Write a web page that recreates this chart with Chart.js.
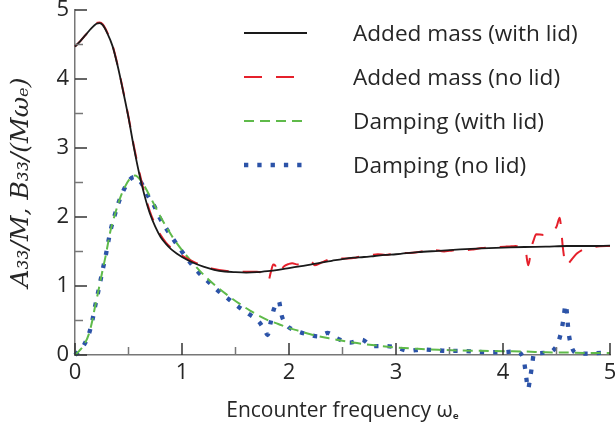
<!DOCTYPE html>
<html><head><meta charset="utf-8">
<script src="https://cdn.jsdelivr.net/npm/chart.js@4/dist/chart.umd.min.js"></script>
<style>html,body{margin:0;padding:0;background:#fff}canvas{display:block}</style>
</head><body>
<canvas id="c" width="615" height="433"></canvas>
<script>
// ---- data ----
const seriesNames = ['Added mass (with lid)', 'Added mass (no lid)', 'Damping (with lid)', 'Damping (no lid)'];
const xTickLabels = ['0','1','2','3','4','5'];
const yTickLabels = ['0','1','2','3','4','5'];

const omegaAddedLid = [0,0.05,0.1,0.15,0.2,0.23,0.26,0.3,0.35,0.4,
  0.45,0.5,0.55,0.6,0.65,0.7,0.75,0.8,0.85,0.9,
  0.95,1.0,1.1,1.2,1.3,1.4,1.5,1.6,1.7,1.8,
  1.9,2.0,2.1,2.2,2.3,2.4,2.5,2.6,2.7,2.8,
  2.9,3.0,3.2,3.4,3.6,3.8,4.0,4.2,4.4,4.6,
  4.8,5.0];
const addedMassLid = [4.47,4.55,4.64,4.73,4.80,4.81,4.78,4.67,4.48,4.18,
  3.82,3.44,3.01,2.63,2.31,2.05,1.86,1.71,1.61,1.53,
  1.47,1.42,1.34,1.28,1.235,1.21,1.20,1.195,1.20,1.215,
  1.235,1.26,1.285,1.31,1.34,1.365,1.39,1.41,1.42,1.435,
  1.45,1.46,1.49,1.51,1.53,1.545,1.555,1.565,1.57,1.58,
  1.58,1.585];

const omegaAddedNoLid = [0,0.05,0.1,0.15,0.2,0.23,0.26,0.3,0.35,0.4,
  0.45,0.5,0.55,0.6,0.65,0.7,0.75,0.8,0.85,0.9,
  0.95,1.0,1.1,1.2,1.3,1.4,1.5,1.6,1.7,1.76,
  1.79,1.807,1.83,1.853,1.87,1.89,1.91,1.95,2.0,2.03,
  2.08,2.13,2.18,2.21,2.24,2.29,2.35,2.4,2.48,2.55,
  2.62,2.7,2.77,2.83,2.9,2.98,3.05,3.12,3.2,3.27,
  3.33,3.38,3.45,3.5,3.58,3.65,3.72,3.8,3.88,3.95,
  4.02,4.08,4.12,4.16,4.21,4.235,4.268,4.29,4.31,4.38,
  4.45,4.5,4.53,4.545,4.56,4.59,4.64,4.69,4.75,4.82,
  4.9,5.0];
const addedMassNoLid = [4.47,4.55,4.64,4.73,4.81,4.82,4.79,4.68,4.49,4.19,
  3.83,3.45,3.03,2.66,2.34,2.08,1.89,1.74,1.63,1.55,
  1.49,1.44,1.355,1.29,1.245,1.22,1.21,1.205,1.205,1.18,
  1.12,1.08,1.20,1.31,1.30,1.22,1.18,1.28,1.32,1.33,
  1.31,1.31,1.33,1.35,1.30,1.33,1.37,1.40,1.40,1.40,
  1.41,1.44,1.45,1.46,1.45,1.47,1.48,1.48,1.49,1.51,
  1.54,1.52,1.50,1.51,1.52,1.52,1.53,1.55,1.56,1.565,
  1.57,1.575,1.58,1.56,1.52,1.30,1.57,1.68,1.75,1.74,
  1.79,1.86,1.99,1.80,1.55,1.30,1.38,1.47,1.53,1.56,
  1.575,1.58];

const omegaDampLid = [0,0.04,0.084,0.131,0.162,0.187,0.212,0.237,0.262,0.287,
  0.311,0.336,0.368,0.405,0.449,0.51,0.56,0.62,0.68,0.74,
  0.8,0.86,0.92,1.0,1.08,1.16,1.25,1.34,1.44,1.54,
  1.64,1.73,1.81,1.9,2.0,2.07,2.2,2.38,2.6,2.8,
  3.0,3.2,3.4,3.6,3.8,4.0,4.2,4.4,4.6,4.8,
  5.0];
const dampingLid = [0,0.06,0.145,0.31,0.50,0.70,0.88,1.07,1.26,1.44,
  1.64,1.83,2.01,2.20,2.38,2.55,2.60,2.52,2.36,2.18,
  2.00,1.84,1.69,1.52,1.37,1.23,1.09,0.97,0.85,0.74,
  0.64,0.56,0.50,0.45,0.39,0.36,0.30,0.24,0.18,0.14,
  0.11,0.09,0.075,0.065,0.06,0.055,0.05,0.04,0.035,0.03,
  0.03];

const omegaDampNoLid = [0,0.04,0.084,0.131,0.162,0.187,0.212,0.237,0.262,0.287,
  0.311,0.336,0.368,0.405,0.449,0.511,0.56,0.617,0.676,0.741,
  0.791,0.854,0.922,0.994,1.071,1.153,1.24,1.33,1.427,1.527,
  1.629,1.72,1.78,1.80,1.83,1.86,1.905,1.93,1.98,2.07,
  2.17,2.28,2.36,2.45,2.57,2.68,2.78,2.9,3.0,3.12,
  3.24,3.36,3.49,3.61,3.74,3.86,3.99,4.11,4.19,4.21,
  4.235,4.25,4.27,4.29,4.4,4.5,4.54,4.565,4.585,4.60,
  4.61,4.63,4.68,4.81,4.93,5.0];
const dampingNoLid = [0,0.06,0.145,0.31,0.50,0.70,0.88,1.07,1.26,1.44,
  1.64,1.83,2.01,2.20,2.37,2.54,2.58,2.50,2.32,2.16,
  1.99,1.83,1.67,1.51,1.35,1.20,1.07,0.94,0.82,0.70,
  0.59,0.48,0.34,0.29,0.48,0.67,0.78,0.58,0.43,0.35,
  0.30,0.27,0.32,0.24,0.18,0.22,0.13,0.13,0.11,0.06,
  0.08,0.07,0.06,0.06,0.05,0.04,0.04,0.05,-0.04,-0.23,
  -0.49,-0.37,-0.17,0.02,0.03,0.13,0.31,0.52,0.73,0.57,
  0.37,0.18,0.03,0.02,0.03,0.03];

// ---- chart ----
const FONT = '"Open Sans", Lato, sans-serif';
const TXT = '#262626';
const pts = (xs, ys) => xs.map((x, i) => ({x: x, y: ys[i]}));

const decor = {
  id: 'decor',
  afterDraw(chart) {
    const {ctx, chartArea: a, scales: {x, y}} = chart;
    ctx.save();
    ctx.lineCap = 'butt';
    ctx.setLineDash([]);
    x.ticks.forEach(t => {
      const major = Number.isInteger(t.value);
      const px = x.getPixelForValue(t.value);
      ctx.strokeStyle = major ? '#333' : '#777';
      ctx.lineWidth = 1.5;
      ctx.beginPath(); ctx.moveTo(px, a.bottom); ctx.lineTo(px, a.bottom - (major ? 12 : 8)); ctx.stroke();
    });
    y.ticks.forEach(t => {
      const major = Number.isInteger(t.value);
      const py = y.getPixelForValue(t.value);
      ctx.strokeStyle = major ? '#333' : '#777';
      ctx.lineWidth = 1.5;
      ctx.beginPath(); ctx.moveTo(a.left, py); ctx.lineTo(a.left + (major ? 12 : 8), py); ctx.stroke();
    });
    // legend
    chart.data.datasets.forEach((ds, i) => {
      const ly = 33 + 44 * i;
      ctx.save();
      ctx.strokeStyle = ds.borderColor;
      ctx.lineWidth = ds.borderWidth;
      ctx.lineCap = 'butt';
      ctx.setLineDash(ds.borderDash || []);
      ctx.beginPath(); ctx.moveTo(244, ly); ctx.lineTo(307, ly); ctx.stroke();
      ctx.restore();
      ctx.fillStyle = TXT;
      ctx.font = '22.6px ' + FONT;
      ctx.textBaseline = 'alphabetic';
      ctx.textAlign = 'left';
      ctx.fillText(ds.label, 353, ly + 8);
    });
    ctx.restore();
  }
};

new Chart(document.getElementById('c'), {
  type: 'line',
  data: {
    datasets: [
      {label: seriesNames[0], data: pts(omegaAddedLid, addedMassLid), borderColor: '#1a1a1a', borderWidth: 1.8, cubicInterpolationMode: 'monotone', clip: false},
      {label: seriesNames[1], data: pts(omegaAddedNoLid, addedMassNoLid), borderColor: '#e5202b', borderWidth: 2, borderDash: [18, 14], cubicInterpolationMode: 'monotone', clip: false},
      {label: seriesNames[2], data: pts(omegaDampLid, dampingLid), borderColor: '#5fba4a', borderWidth: 2, borderDash: [10, 6], cubicInterpolationMode: 'monotone', clip: false},
      {label: seriesNames[3], data: pts(omegaDampNoLid, dampingNoLid), borderColor: '#2c53a8', borderWidth: 4.3, borderDash: [4.3, 9], cubicInterpolationMode: 'monotone', clip: false}
    ]
  },
  options: {
    responsive: false,
    animation: false,
    devicePixelRatio: 1,
    layout: {padding: {top: 10, right: 5, left: 0, bottom: 0}},
    elements: {point: {radius: 0}, line: {borderCapStyle: 'butt', fill: false}},
    plugins: {legend: {display: false}, tooltip: {enabled: false}},
    scales: {
      x: {
        type: 'linear', min: 0, max: 5,
        border: {display: true, color: '#777', width: 1.5},
        grid: {display: false, drawTicks: false},
        ticks: {stepSize: 0.5, autoSkip: false, maxRotation: 0, padding: 5, color: TXT,
          font: {family: FONT, size: 22},
          callback: (v) => Number.isInteger(v) ? xTickLabels[v] : ''},
        title: {display: true, text: 'Encounter frequency ωₑ', color: TXT,
          font: {family: FONT, size: 21}, padding: {top: 0, bottom: 9}},
        afterFit: (s) => { s.height = 78; s.paddingLeft = 0; s.paddingRight = 0; }
      },
      y: {
        type: 'linear', min: 0, max: 5,
        border: {display: true, color: '#777', width: 1.5},
        grid: {display: false, drawTicks: false},
        ticks: {stepSize: 0.5, autoSkip: false, padding: 6, color: TXT,
          font: {family: FONT, size: 22},
          callback: (v) => Number.isInteger(v) ? yTickLabels[v] : ''},
        title: {display: true, text: 'A₃₃/M, B₃₃/(Mωₑ)', color: TXT,
          font: {family: '"DejaVu Serif", serif', size: 25, style: 'italic'},
          padding: {top: 6, bottom: 0}},
        afterFit: (s) => { s.width = 75; s.paddingTop = 0; s.paddingBottom = 0; }
      }
    }
  },
  plugins: [decor]
});
</script>
</body></html>
